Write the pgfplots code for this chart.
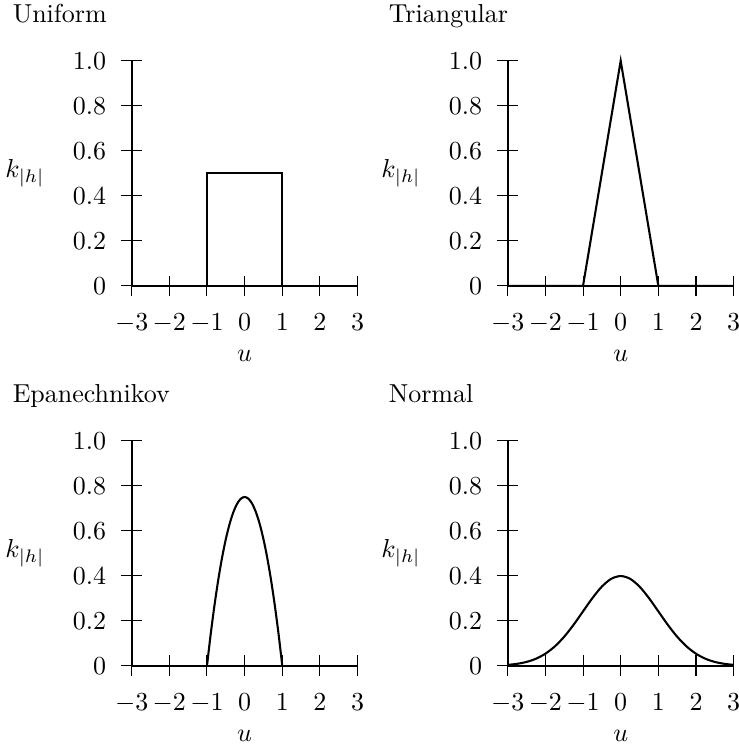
\documentclass[border=0pt]{standalone}
\usepackage{pgfplots}
\pgfplotsset{compat=1.18}
\usepgfplotslibrary{groupplots}
\pgfplotsset{
  kernel/.style={
    scale only axis, width=87pt, height=86.7pt,
    xmin=-3, xmax=3, ymin=0, ymax=1,
    axis x line=bottom, axis y line=left,
    axis line style={-, thick},
    tick align=center, major tick length=8pt,
    tick style={thin, black},
    xticklabel shift=3.2pt, yticklabel shift=2.3pt,
    xtick={-3,-2,-1,0,1,2,3},
    ytick={0,0.2,0.4,0.6,0.8,1.0},
    yticklabels={0,0.2,0.4,0.6,0.8,1.0},
    xlabel={$u$}, ylabel={$k_{|h|}$},
    every axis x label/.style={at={(rel axis cs:0.5,0)}, anchor=base, yshift=-29.2pt},
    every axis y label/.style={at={(rel axis cs:0,0.5)}, anchor=east, xshift=-30pt},
    every axis title/.style={at={(rel axis cs:0,1)}, anchor=base west, xshift=-49.3pt, yshift=14.6pt},
    clip=false,
  }
}
\begin{document}
\begin{tikzpicture}
\begin{groupplot}[group style={group size=2 by 2, horizontal sep=57.8pt, vertical sep=59.6pt}, kernel]
\nextgroupplot[title={Uniform}]
\addplot[thick, black] coordinates {(-3,0) (-1,0) (-1,0.5) (1,0.5) (1,0) (3,0)};
\nextgroupplot[title={Triangular}]
\addplot[thick, black] coordinates {(-3,0) (-1,0) (0,1) (1,0) (3,0)};
\nextgroupplot[title={Epanechnikov}]
\addplot[thick, black] coordinates {(-3,0) (-1,0)};
\addplot[thick, black, smooth] coordinates {
(-1,0) (-0.9,0.1425) (-0.8,0.27) (-0.7,0.3825) (-0.6,0.48) (-0.5,0.5625)
(-0.4,0.63) (-0.3,0.6825) (-0.2,0.72) (-0.1,0.7425) (0,0.75)
(0.1,0.7425) (0.2,0.72) (0.3,0.6825) (0.4,0.63) (0.5,0.5625)
(0.6,0.48) (0.7,0.3825) (0.8,0.27) (0.9,0.1425) (1,0)};
\addplot[thick, black] coordinates {(1,0) (3,0)};
\nextgroupplot[title={Normal}]
\addplot[thick, black, smooth] coordinates {
(-3,0.0044) (-2.75,0.0091) (-2.5,0.0175) (-2.25,0.0317) (-2,0.0540)
(-1.75,0.0863) (-1.5,0.1295) (-1.25,0.1826) (-1,0.2420) (-0.75,0.3011)
(-0.5,0.3521) (-0.25,0.3867) (0,0.3989) (0.25,0.3867) (0.5,0.3521)
(0.75,0.3011) (1,0.2420) (1.25,0.1826) (1.5,0.1295) (1.75,0.0863)
(2,0.0540) (2.25,0.0317) (2.5,0.0175) (2.75,0.0091) (3,0.0044)};
\end{groupplot}
\pgfresetboundingbox
\path[use as bounding box] ([shift={(-50.7pt,23.4pt)}]group c1r1.north west) rectangle ([shift={(2pt,-32.4pt)}]group c2r2.south east);
\end{tikzpicture}
\end{document}
